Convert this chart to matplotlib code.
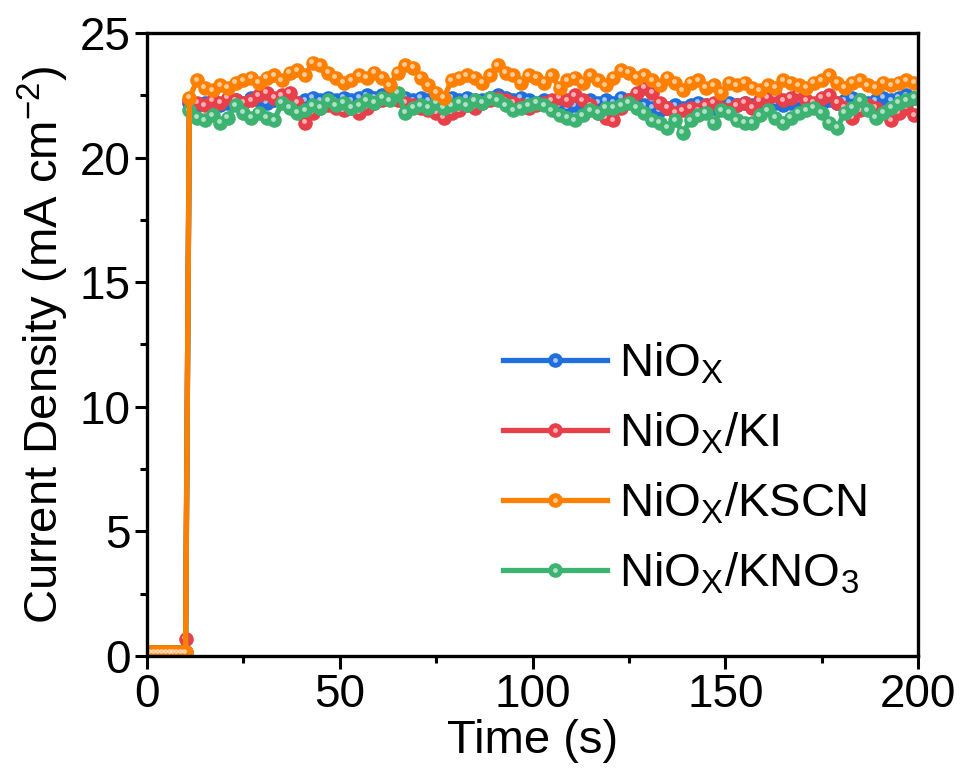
import numpy as np
import matplotlib
matplotlib.use('Agg')
import matplotlib.pyplot as plt
from matplotlib.lines import Line2D
from matplotlib.legend_handler import HandlerTuple
from matplotlib import transforms

plt.rcParams['font.family'] = ['Liberation Sans', 'DejaVu Sans']
plt.rcParams['mathtext.fontset'] = 'custom'
plt.rcParams['mathtext.rm'] = 'Liberation Sans'
plt.rcParams['mathtext.it'] = 'Liberation Sans'
plt.rcParams['mathtext.bf'] = 'Liberation Sans'

# time axis: 1 s steps before the light is switched on, 2 s steps after
t_pre = np.arange(0, 11)
t_on = np.arange(11, 200, 2)
time = np.concatenate([t_pre, t_on])

labels = ['NiO$_\\mathrm{X}$', 'NiO$_\\mathrm{X}$/KI', 'NiO$_\\mathrm{X}$/KSCN', 'NiO$_\\mathrm{X}$/KNO$_3$']
colors = ['#1f6fdc', '#e8404a', '#ff8000', '#3cb371']

pre_nio = [0.15, 0.15, 0.15, 0.15, 0.15, 0.15, 0.15, 0.15, 0.15, 0.15, 0.15]
pre_ki = [0.15, 0.15, 0.15, 0.15, 0.15, 0.15, 0.15, 0.15, 0.15, 0.15, 0.7]
pre_kscn = [0.15, 0.15, 0.15, 0.15, 0.15, 0.15, 0.15, 0.15, 0.15, 0.15, 0.15]
pre_kno3 = [0.15, 0.15, 0.15, 0.15, 0.15, 0.15, 0.15, 0.15, 0.15, 0.15, 0.1]

nio = [22.2, 22.1, 22.2, 22.0, 22.1, 22.2, 22.3, 22.2, 22.4, 22.3,
       22.2, 22.3, 22.4, 22.3, 22.2, 22.3, 22.4, 22.3, 22.4, 22.3,
       22.4, 22.3, 22.4, 22.5, 22.4, 22.5, 22.4, 22.5, 22.4, 22.3,
       22.4, 22.3, 22.4, 22.3, 22.4, 22.3, 22.4, 22.3, 22.3, 22.4,
       22.5, 22.4, 22.3, 22.4, 22.3, 22.2, 22.3, 22.2, 22.1, 22.0,
       22.1, 22.2, 22.3, 22.2, 22.3, 22.2, 22.4, 22.3, 22.2, 22.1,
       22.0, 21.9, 22.0, 22.1, 22.0, 22.1, 22.2, 22.1, 22.0, 22.1,
       22.2, 22.1, 22.2, 22.1, 22.2, 22.3, 22.2, 22.1, 22.2, 22.3,
       22.2, 22.1, 22.2, 22.3, 22.2, 22.3, 22.4, 22.3, 22.2, 22.3,
       22.4, 22.3, 22.4, 22.5, 22.4]

ki = [22.3, 22.2, 22.1, 22.3, 22.2, 22.4, 22.3, 22.2, 22.3, 22.5,
      22.6, 22.4, 22.5, 22.6, 22.2, 21.4, 21.8, 22.0, 22.1, 22.0,
      21.9, 22.0, 21.8, 22.0, 22.2, 22.3, 22.4, 22.3, 22.2, 22.1,
      22.0, 21.9, 21.8, 21.6, 21.8, 21.9, 22.1, 22.0, 22.2, 22.3,
      22.4, 22.3, 22.2, 22.1, 22.0, 22.1, 22.2, 22.3, 22.4, 22.3,
      22.5, 22.3, 22.1, 21.8, 21.6, 21.5, 22.0, 22.3, 22.6, 22.8,
      22.6, 22.2, 22.0, 21.8, 21.9, 22.0, 21.9, 22.1, 22.2, 22.0,
      21.9, 22.1, 22.2, 22.0, 22.3, 22.4, 22.5, 22.3, 22.4, 22.6,
      22.3, 22.2, 22.4, 22.5, 22.2, 22.0, 21.6, 21.9, 22.1, 22.0,
      21.8, 21.5, 21.8, 22.0, 21.7]

kscn = [22.4, 23.1, 22.8, 22.7, 22.9, 22.8, 23.0, 23.1, 23.2, 23.0,
        23.2, 23.3, 23.1, 23.4, 23.5, 23.3, 23.8, 23.7, 23.4, 23.2,
        23.0, 23.1, 23.3, 23.2, 23.4, 23.2, 22.9, 23.4, 23.7, 23.6,
        23.2, 22.9, 22.6, 22.4, 23.1, 23.2, 23.3, 23.2, 23.0, 23.3,
        23.7, 23.4, 23.3, 23.0, 23.3, 23.2, 23.0, 23.3, 22.8, 23.1,
        23.2, 23.0, 23.3, 23.1, 22.9, 23.2, 23.5, 23.4, 23.2, 23.3,
        23.1, 22.9, 23.2, 23.0, 22.7, 23.0, 23.1, 22.8, 22.9, 22.6,
        23.0, 22.9, 23.0, 22.8, 22.7, 22.9, 22.8, 23.1, 23.0, 22.9,
        22.8, 23.0, 23.1, 23.3, 23.0, 22.8, 23.0, 23.1, 22.9, 22.8,
        23.0, 22.9, 23.0, 23.1, 23.0]

kno3 = [21.9, 21.6, 21.5, 21.7, 21.4, 21.6, 22.1, 21.8, 21.6, 21.8,
        21.6, 21.5, 22.2, 22.0, 21.8, 21.9, 22.1, 22.0, 22.3, 22.1,
        22.2, 22.0, 22.1, 22.3, 22.2, 22.4, 22.3, 22.6, 21.8, 22.0,
        22.1, 22.0, 22.2, 22.0, 22.1, 22.2, 22.1, 22.3, 22.2, 22.4,
        22.3, 22.1, 21.9, 22.0, 22.1, 22.2, 22.1, 21.9, 21.7, 21.6,
        21.5, 21.7, 21.9, 21.8, 22.0, 22.0, 22.1, 22.2, 22.0, 21.8,
        21.5, 21.4, 21.2, 21.5, 21.0, 21.5, 21.7, 21.8, 21.4, 21.9,
        21.8, 21.5, 21.4, 21.4, 21.7, 21.9, 21.6, 21.4, 21.6, 21.8,
        21.9, 22.0, 21.8, 21.4, 21.2, 21.8, 22.0, 22.3, 21.9, 21.6,
        21.8, 22.0, 22.2, 22.3, 22.4]

series = [pre_nio + nio, pre_ki + ki, pre_kscn + kscn, pre_kno3 + kno3]
layer = [2.0, 2.1, 2.3, 2.2]  # orange ends up on top, as in the original

fig = plt.figure(figsize=(9.62, 7.8), dpi=100)
ax = fig.add_axes([0.1528, 0.159, 0.8015, 0.7987])

hl_trans = transforms.offset_copy(ax.transData, fig=fig, x=-1.5, y=1.5, units='dots')

handles = []
for i in range(4):
    y = series[i]
    ln, = ax.plot(time, y, '-o', color=colors[i], lw=3.8, ms=10.5, mew=0, zorder=layer[i])
    ax.plot(time, y, 'o', color='white', ms=3.5, mew=0, alpha=0.6, transform=hl_trans,
            zorder=layer[i] + 0.05)
    hl = Line2D([], [], ls='none', marker='o', ms=3.5, color='white', mew=0, alpha=0.6)
    handles.append((ln, hl))

ax.set_xlim(0, 200)
ax.set_ylim(0, 25)
ax.set_xticks([0, 50, 100, 150, 200])
ax.set_xticks([25, 75, 125, 175], minor=True)
ax.set_yticks([0, 5, 10, 15, 20, 25])
ax.set_yticks([2.5, 7.5, 12.5, 17.5, 22.5], minor=True)
ax.tick_params(which='major', direction='out', length=9, width=2.2, labelsize=33, pad=3)
ax.tick_params(which='minor', direction='out', length=5, width=2.2)
for s in ax.spines.values():
    s.set_linewidth(2.4)

ax.set_xlabel('Time (s)', fontsize=34, labelpad=2)
ax.set_ylabel('Current Density (mA cm$^{-2}$)', fontsize=34, labelpad=6)

ax.legend(handles, labels, handler_map={tuple: HandlerTuple(ndivide=1)},
          loc='upper left', bbox_to_anchor=(503 / 962, 1 - 341 / 780),
          bbox_transform=fig.transFigure, frameon=False, fontsize=34,
          handlelength=2.2, handletextpad=0.25, labelspacing=0.52,
          borderpad=0, borderaxespad=0)

fig.savefig('out.png', dpi=100)
